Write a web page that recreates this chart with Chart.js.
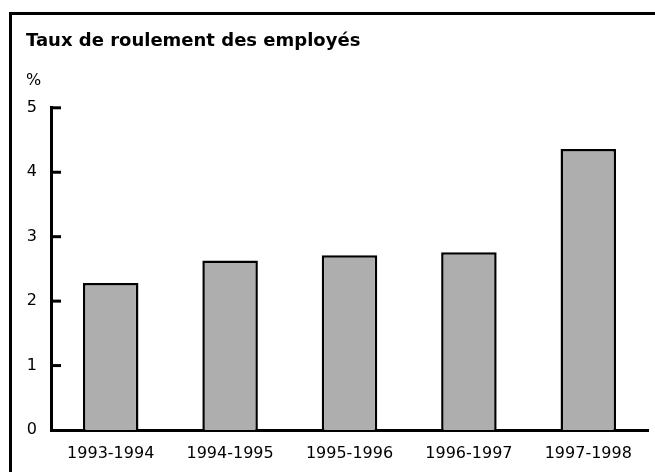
<!DOCTYPE html>
<html>
<head>
<meta charset="utf-8">
<script src="https://cdn.jsdelivr.net/npm/chart.js@4/dist/chart.umd.min.js"></script>
<style>
  html, body { margin: 0; padding: 0; background: #fff; overflow: hidden; }
  #wrap { position: relative; width: 655px; height: 472px; }
  #frame {
    position: absolute; left: 9px; top: 12px; width: 700px; height: 500px;
    border-left: 3px solid #000; border-top: 3px solid #000;
  }
  canvas { position: absolute; left: 0; top: 0; }
</style>
</head>
<body>
<div id="wrap">
  <div id="frame"></div>
  <canvas id="turnoverChart" width="655" height="472"></canvas>
</div>
<script>
// Employee turnover rate, %
const years = ['1993-1994', '1994-1995', '1995-1996', '1996-1997', '1997-1998'];
const turnover = [2.28, 2.63, 2.71, 2.76, 4.36];
const yTicks = [0, 1, 2, 3, 4, 5];

const chartTitle = 'Taux de roulement des employés';
const unitLabel = '%';

// short tick marks pointing into the plot, as in the original
const innerTicks = {
  id: 'innerTicks',
  afterDraw(chart) {
    const y = chart.scales.y;
    const x0 = chart.chartArea.left;
    const ctx = chart.ctx;
    ctx.save();
    ctx.strokeStyle = '#000';
    ctx.lineWidth = 3;
    y.ticks.forEach(t => {
      if (t.value === 0) return;
      const py = y.getPixelForValue(t.value);
      ctx.beginPath();
      ctx.moveTo(x0, py);
      ctx.lineTo(x0 + 10, py);
      ctx.stroke();
    });
    ctx.restore();
  }
};

const font = 'DejaVu Sans, Liberation Sans, Arial, sans-serif';

new Chart(document.getElementById('turnoverChart').getContext('2d'), {
  type: 'bar',
  data: {
    labels: years,
    datasets: [{
      data: turnover,
      backgroundColor: '#aeaeae',
      borderColor: '#000',
      borderWidth: 2.5,
      borderSkipped: 'bottom',
      barPercentage: 0.465,
      categoryPercentage: 1
    }]
  },
  options: {
    responsive: false,
    animation: false,
    events: [],
    layout: { padding: { left: 26, right: 7, top: 0, bottom: 0 } },
    plugins: {
      legend: { display: false },
      tooltip: { enabled: false },
      title: {
        display: true,
        text: chartTitle,
        align: 'start',
        color: '#000',
        font: { family: font, size: 18, weight: 'bold', lineHeight: 1.2 },
        padding: { top: 31, bottom: 10 }
      },
      subtitle: {
        display: true,
        text: unitLabel,
        align: 'start',
        color: '#000',
        font: { family: font, size: 16, lineHeight: 1.2 },
        padding: { top: 9, bottom: 17 }
      }
    },
    scales: {
      x: {
        grid: { display: false, drawTicks: false },
        border: { display: true, color: '#000', width: 3 },
        ticks: { color: '#000', padding: 14, font: { family: font, size: 16 } },
        afterFit(scale) { scale.height = 42; }
      },
      y: {
        min: 0,
        max: 5,
        afterBuildTicks(scale) { scale.ticks = yTicks.map(v => ({ value: v })); },
        grid: { display: false, drawTicks: false },
        border: { display: true, color: '#000', width: 3 },
        ticks: { color: '#000', padding: 14, font: { family: font, size: 16 } },
        afterFit(scale) { scale.width = 25; }
      }
    }
  },
  plugins: [innerTicks]
});
</script>
</body>
</html>
